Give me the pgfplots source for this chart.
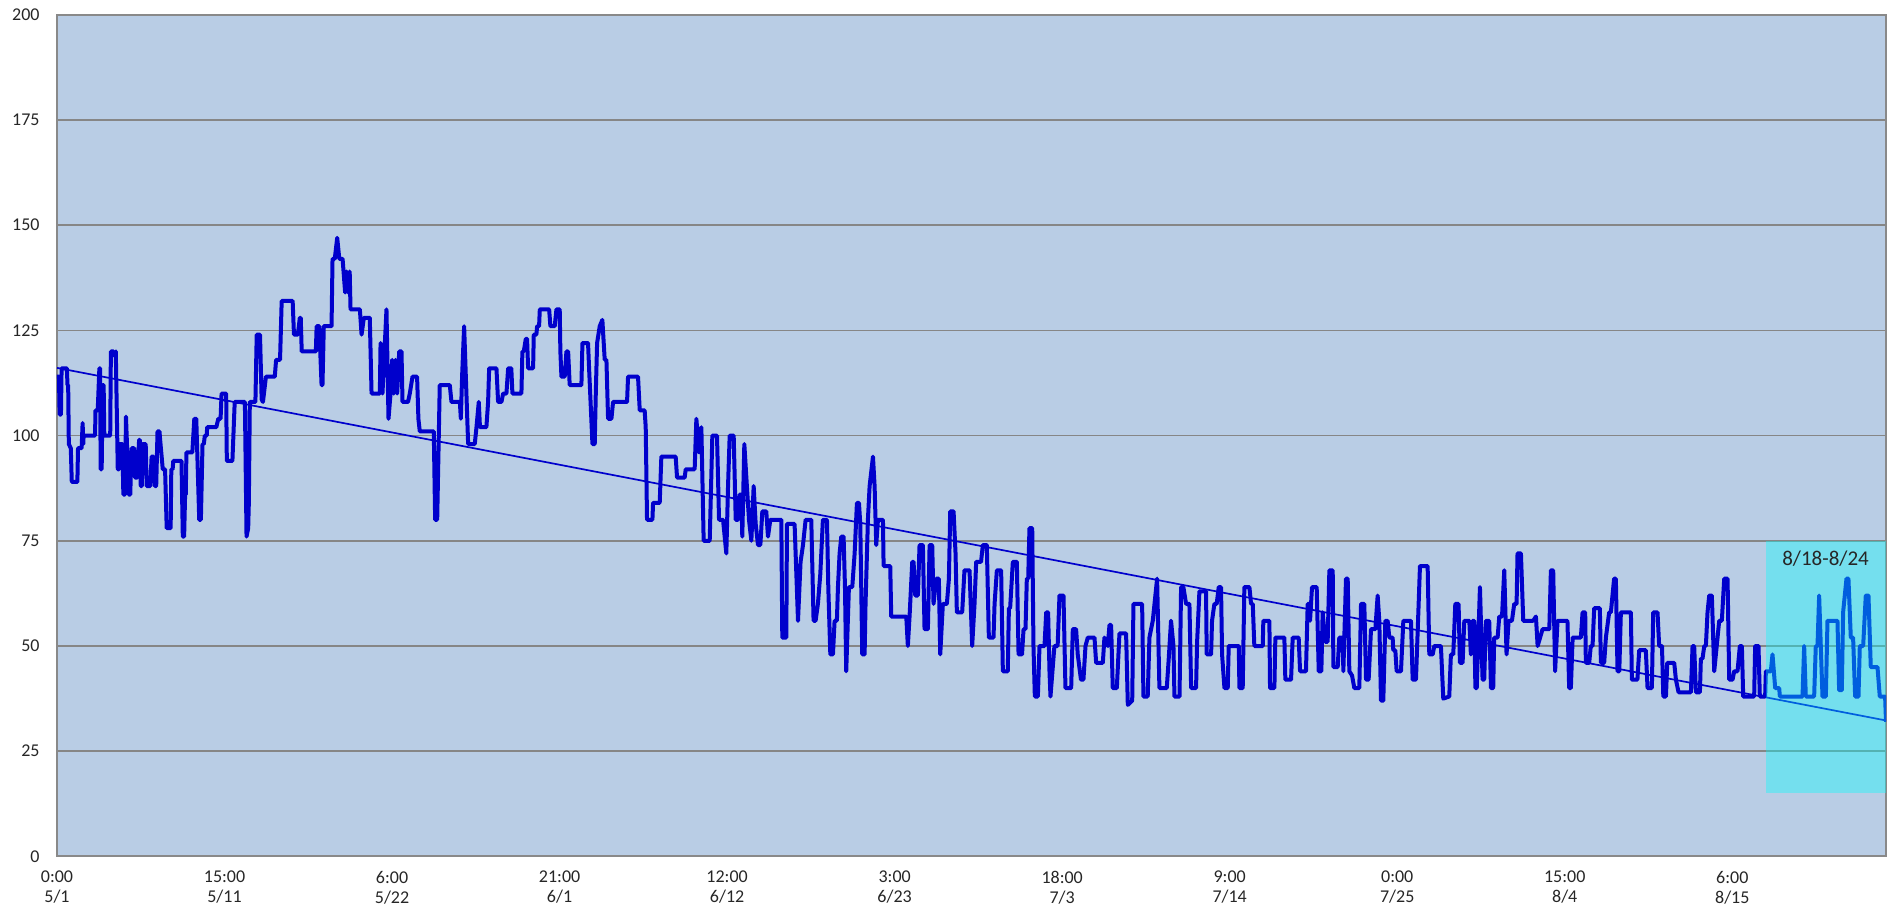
\documentclass[border=0pt]{standalone}
\usepackage{pgfplots}
\pgfplotsset{compat=1.18}
\usepackage{pgfplotstable}
\usepackage{fontspec}
\setmainfont{Carlito}
\definecolor{bgblue}{RGB}{185,205,229}
\definecolor{linblue}{RGB}{0,0,204}
\definecolor{gridgray}{RGB}{134,134,134}
\definecolor{framegray}{RGB}{137,137,137}
\definecolor{hicyan}{RGB}{0,255,255}
\pgfplotstableread{
h v
0 114
3 114
4 105
6 105
7 116
15 116
16 112
17 112
18 98
21 97
22.5 89
31 89
32 97
37.5 97
39 103
40 98
40.5 100
58 100
58.5 106
62 106
64.5 116
65.5 116
66.5 92
68 92
69.5 112
71 112
72 100
81 100
82 120
86 120
87 119
89.5 120
92.5 92
94.5 92
95.5 98
99.5 98
101 86
103.5 86
105 104.5
106.5 98
109 86
111.5 86
113.5 97
117.5 97
119 90
122 90
125 99
126 99
127.5 88
129 88
130.5 98
135 98
136.5 88
142 88
144 95
147 95
149 88
151 88
153 101
156 101
157 99
161 92
164.5 92
167 78
173 78
174 92
176 92
177 94
189.5 94
191.5 76
193.5 76
195 86
196 86
197 96
206 96
209 104
212 104
216.5 80
219 80
221.5 98
223.5 98
225 100
228 100
228.5 102
242.5 102
245.5 104
249 104
250.5 110
257.5 110
258.5 94
267 94
270.5 108
286 108
288.5 76
291 78
292 84
293.5 108
302 108
304 124
309 124
311.5 108.6
313.5 108
318 114
331.5 114
333.5 118
339.5 118
342 132
358.7 132
360.7 124
366.6 124
369.6 128
371 128
372.5 120
394 120
395.2 126
399.2 126
402.7 112
404.1 112
406.1 126
417.9 126
419.4 142
422.8 142
426.5 147
427.8 145
429.7 142
434.7 142
438.6 134
440.6 139
443.3 134
445.5 139
446.8 130
461 130
463.6 124
467.1 128
476.1 128
478.8 110
491.4 110
492.5 122
495.4 110
501.5 130
504.6 104
507.7 110
510.2 118
512.6 110
515.3 118
517.8 110
520.9 120
524.4 120
525.9 108
534.3 108
537 110
541.1 114
548.1 114
550.1 104
552.2 101
573.5 101
575.6 80
578.7 80
582.6 112
597.9 112
600.4 108
613.2 108
614.7 104
616.6 114
619.7 126
622.3 114
625.8 98
635.9 98
638.5 102
642 108
643.8 102
653.6 102
656.2 108
657.8 116
668.9 116
671.4 108
676.5 108
679.1 110
684.1 110
686.7 116
691.5 116
693.2 110
706.9 110
708.4 120
710.5 120
713.6 123
715.5 123
717.1 116
724.7 116
725.7 124
729.7 124
730.8 126
733.8 126
734.9 130
749.1 130
751 126
757.6 126
760.2 130
765.2 130
766.2 120
767.8 114
772.8 114
775.4 120
778 120
780.4 112
798.2 112
799.8 122
808.3 122
809.9 116
815 98
818.5 98
820.1 110
822.1 122
826.1 126
830.1 127.5
833.7 118
836.3 118
838.8 104
843.9 104
846.4 108
867.7 108
869.2 114
884.4 114
887 106
894.5 106
896.1 102
898.1 80
906.3 80
907.3 84
917.4 84
919.9 95
941.7 95
943.8 90
955.4 90
957 92
970.6 92
973.2 104
977.2 96
980.8 102
984.3 75
993.5 75
997.5 100
1004.6 100
1007.7 80
1013.8 80
1018.8 72
1021.4 88
1023.9 100
1030 100
1033.1 80
1036.6 80
1039 86
1041.7 86
1043.1 76
1046.2 98
1049.3 90
1053.3 80
1056.9 75
1060.4 88
1063.5 79
1067 74
1070.6 74
1073.6 82
1079.6 82
1082.2 76
1085.8 80
1102.5 80
1104 52
1110.1 52
1111.1 79
1122.7 79
1127.9 56
1131.8 70
1135.5 74
1139.5 80
1148.1 80
1151.6 56
1154.7 56
1158.2 60
1161.8 67
1165.8 80
1172 80
1174 64
1177.1 48
1181.1 48
1183.6 56
1187.1 56
1188.7 64
1191.2 72
1193.8 76
1197.3 76
1199.4 64
1201.3 44
1205.4 64
1210.5 64
1214.1 72
1217.6 84
1220.7 84
1222.7 79
1225.7 48
1229.3 48
1230.7 60
1234.3 80
1236.9 88
1242 95
1244.5 88
1247 74
1249.6 80
1257.2 80
1258.2 69
1268.3 69
1269.8 57
1292.7 57
1295.1 50
1297.7 57
1301.8 70
1303.8 70
1306.4 62
1310.4 62
1312.9 74
1318 74
1320.5 54
1325.6 54
1328.2 74
1332.2 74
1334.2 60
1338.2 66
1342.3 66
1344.4 48
1348.4 60
1354.5 60
1357.6 66
1359.6 82
1364.7 82
1367.7 72
1369.7 58
1377.8 58
1381.3 68
1389 68
1393 50
1396.6 60
1399.1 70
1406.5 70
1409.3 74
1415.3 74
1418.4 52
1425.5 52
1427.1 60
1430.6 68
1437.1 68
1439.7 44
1447.2 44
1448.9 59
1450.8 59
1454.9 70
1461 70
1463.6 48
1468.9 48
1471.2 54
1474.2 54
1476.2 66
1478.3 66
1480.2 78
1484.4 78
1486.3 50
1488.4 38
1493 38
1495.5 50
1503.1 50
1505.7 58
1508.6 58
1510.7 44
1512.2 38
1518.2 50
1523.1 50
1525.9 62
1532 62
1535 40
1543.7 40
1546.2 54
1551.2 54
1553.7 48
1558.6 42
1562.4 42
1565.5 50
1569 52
1579.2 52
1581.7 46
1591.9 46
1594.3 52
1599.5 50
1602 55
1604.5 55
1607 40
1613.2 40
1617.2 53
1627.3 53
1629.9 36
1636.6 37
1638.5 60
1651.7 60
1653.7 38
1660.2 38
1662.8 52
1667.9 56
1674.5 66
1678 40
1689.2 40
1691.8 46
1695.7 56
1699.4 50
1700.9 38
1708.6 38
1711 64
1714.5 64
1718.6 60
1723.7 60
1726.3 40
1733.8 40
1735.4 51
1738.9 63
1749 63
1750 48
1756.7 48
1758.1 56
1761.7 60
1765.2 60
1768.3 64
1771.8 64
1773.4 48
1777 40
1782 40
1783.5 50
1798.8 50
1799.8 40
1804.8 40
1807.3 64
1815 64
1817.5 60
1820.1 60
1822.5 50
1835.3 50
1836.2 56
1845.4 56
1846.4 40
1853 40
1854.5 52
1868.2 52
1869.7 42
1878.4 42
1880.9 52
1890 52
1892.1 44
1901.1 44
1903.7 60
1906.3 60
1907.3 56
1910.3 64
1917.4 64
1920.5 44
1924.5 44
1926.5 58
1930.5 51
1934.1 51
1936.7 68
1941.8 68
1942.8 45
1949.4 45
1951.8 52
1957 52
1958 44
1962 66
1964.6 66
1967.1 44
1971.2 43
1974.7 40
1982.3 40
1984.9 60
1989.9 60
1992.5 42
1996.5 42
2000.1 54
2006.7 54
2010.2 62
2012.7 56
2015.3 37
2018.8 37
2021.9 56
2025.4 56
2028 52
2033 52
2034 49
2037.1 49
2039.1 44
2045.7 44
2049.3 56
2060.9 56
2063.5 42
2068.5 42
2072.6 60
2074.6 69
2086.3 69
2088.8 48
2094 48
2096.4 50
2106.5 50
2110.1 37.5
2119.2 38
2121.7 48
2125.3 48
2128.4 60
2133.4 60
2135.4 46
2139.5 46
2142.1 56
2149.7 56
2152.1 48
2154.7 56
2157.2 56
2159 40
2161 40
2165.9 64
2169.9 42
2172.4 42
2175 56
2180 56
2182.7 40
2186.1 40
2187.6 52
2192.8 52
2195.3 57
2199.5 57
2202.9 68
2206.4 48
2209.5 56
2214.6 56
2218.1 60
2221.7 60
2223.1 72
2228.3 72
2231.8 56
2247 56
2251.1 57
2253.7 50
2261.2 54
2271.5 54
2273.9 68
2277.4 68
2280.3 44
2284 56
2299.1 56
2301.7 40
2304.3 40
2307 52
2319.5 52
2322.1 58
2326.1 58
2327.1 46
2332.2 46
2334.6 50
2337.3 50
2339.8 59
2348.4 59
2350 46
2355 46
2357.6 52
2362.6 58
2365.2 58
2370.1 66
2372.8 66
2375.3 44
2378 44
2380.4 58
2395.7 58
2397.1 42
2405.6 42
2408.3 49
2418.4 49
2421 40
2427.6 40
2429.6 58
2436.2 58
2438.7 50
2443 50
2445 38
2449 38
2451 46
2461.6 46
2464.2 42
2468.2 39
2487 39
2489.5 50
2492 50
2494.6 39
2500.7 39
2502.2 47
2504.7 47
2507.3 50
2509.8 50
2512.3 58
2514.9 62
2518.9 62
2522.5 44
2530.1 56
2534.1 56
2537.7 66
2542.8 66
2545.3 42
2550.4 42
2552.9 44
2558 44
2561.5 50
2564.6 50
2566.6 38
2583.3 38
2584.8 50
2589.9 50
2591.9 38
2600 38
2601.1 44
2608.7 44
2611.2 48
2615.3 40
2621.4 40
2622.4 38
2656.9 38
2659.4 50
2661.9 38
2674.6 38
2677.1 50
2679.7 50
2682.2 62
2684.7 50
2687.3 38
2692.4 38
2694.9 56
2710.1 56
2712.6 39.5
2716.7 39.5
2718.7 58
2723.8 66
2726.8 66
2730.4 52
2733.9 52
2737 38
2742.1 38
2744.1 50
2749.2 50
2753.2 62
2757.3 62
2760.8 45
2771 45
2774.5 38
2782.6 38
2784 32
}\mydata
\begin{document}
\begin{tikzpicture}
\begin{axis}[
  scale only axis,
  width=914.5pt, height=420.8pt,
  xmin=0, xmax=2784, ymin=0, ymax=200,
  axis background/.style={fill=bgblue},
  axis line style={draw=framegray, line width=1pt},
  ytick={0,25,...,200},
  xtick={0,255,510,765,1020,1275,1530,1785,2040,2295,2550},
  xticklabels={{0:00\\5/1},{15:00\\5/11},{6:00\\5/22},{21:00\\6/1},{12:00\\6/12},{3:00\\6/23},{18:00\\7/3},{9:00\\7/14},{0:00\\7/25},{15:00\\8/4},{6:00\\8/15}},
  major tick length=0pt,
  ymajorgrids,
  grid style={draw=gridgray, line width=0.75pt},
  /pgf/number format/assume math mode=true,
  tick label style={font=\fontsize{9}{10}\selectfont, text=black!85},
  y tick label style={anchor=east, inner sep=0pt, xshift=-8.5pt},
  x tick label style={align=center, anchor=north, inner sep=0pt, yshift=-7.2pt},
]
\addplot[linblue, line width=2pt, line join=round, mark=none] table[x=h, y=v] {\mydata};
\addplot[linblue, line width=0.85pt, mark=none] coordinates {(0,116.1) (2784,32.3)};
\fill[hicyan, opacity=0.37] (axis cs:2602,15) rectangle (axis cs:2784,75);
\node[font=\fontsize{10.5}{12}\selectfont, text=black!85] at (axis cs:2692,70.8) {8/18-8/24};
\end{axis}
\path ([shift={(-28.5pt,-27.3pt)}]current axis.south west) rectangle ([shift={(6pt,7.4pt)}]current axis.north east);
\end{tikzpicture}
\end{document}
